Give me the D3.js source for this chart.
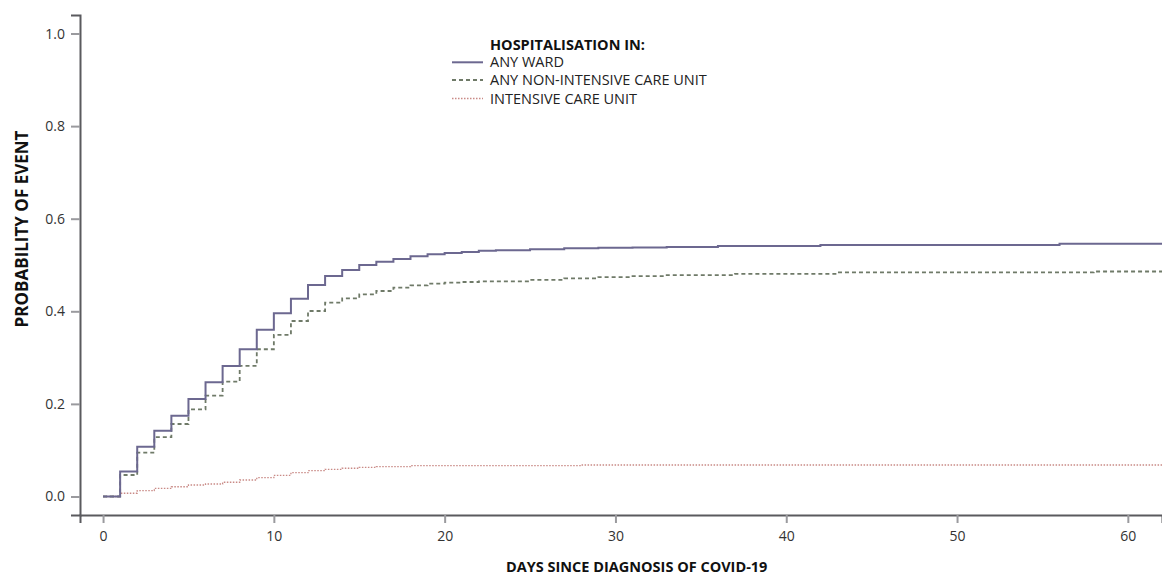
<!DOCTYPE html>
<html>
<head>
<meta charset="utf-8">
<script src="https://cdn.jsdelivr.net/npm/d3@7"></script>
<style>
  body { margin: 0; background: #fff; }
  svg text { font-family: "Open Sans", "Noto Sans", sans-serif; }
</style>
</head>
<body>
<div class="chart_container"></div>
<script>
// step data (day of step, cumulative probability)
var wardDays = [0,1,2,3,4,5,6,7,8,9,10,11,12,13,14,15,16,17,18,19,20,21,22,23,25,27,29,31,33,36,42,56,62];
var wardProb = [0,0.054,0.1075,0.142,0.1745,0.2106,0.2466,0.2818,0.318,0.36,0.396,0.427,0.457,0.476,0.489,0.5,0.507,0.513,0.519,0.523,0.526,0.528,0.531,0.532,0.534,0.536,0.537,0.538,0.539,0.541,0.543,0.546,0.546];

var nonIcuDays = [0,1,2,3,4,5,6,7,8,9,10,11,12,13,14,15,16,17,18,19,20,21,22,25,27,29,31,33,37,43,58,62];
var nonIcuProb = [0,0.0464,0.0946,0.128,0.1566,0.188,0.218,0.248,0.282,0.318,0.349,0.379,0.4006,0.4186,0.428,0.4367,0.4438,0.451,0.456,0.4596,0.4618,0.4633,0.4648,0.468,0.471,0.474,0.476,0.478,0.481,0.484,0.486,0.486];

var icuDays = [0,1,2,3,4,5,6,7,8,9,10,11,12,13,14,15,16,18,28,62];
var icuProb = [0,0.007,0.0125,0.0177,0.021,0.0248,0.027,0.0307,0.0356,0.0406,0.0458,0.0514,0.0557,0.0587,0.061,0.063,0.0644,0.0666,0.068,0.068];

var xTicks = [0,10,20,30,40,50,60];
var yTicks = [0,0.2,0.4,0.6,0.8,1.0];

var legendTitle = "HOSPITALISATION IN:";
var legendLabels = ["ANY WARD", "ANY NON-INTENSIVE CARE UNIT", "INTENSIVE CARE UNIT"];

var width = 1162, height = 578;

var svg = d3.select(".chart_container").append("svg")
    .attr("width", width)
    .attr("height", height);

var x = d3.scaleLinear().domain([-1.35, 62]).range([80, 1162]);
var y = d3.scaleLinear().domain([-0.04, 1.04]).range([515, 15]);

// axes
var xAxis = svg.append("g")
    .attr("transform", "translate(0,515)")
    .call(d3.axisBottom(x).tickValues(xTicks).tickSize(8).tickPadding(8).tickFormat(d3.format("d")));
var yAxis = svg.append("g")
    .attr("transform", "translate(80,0)")
    .call(d3.axisLeft(y).tickValues(yTicks).tickSize(9).tickPadding(6).tickFormat(d3.format(".1f")));

[xAxis, yAxis].forEach(function(a) {
    a.select(".domain").attr("stroke", "#5a5a5e").attr("stroke-width", 2);
    a.selectAll(".tick line").attr("stroke", "#9a9a9e").attr("stroke-width", 2);
    a.selectAll(".tick text").attr("fill", "#333").style("font-size", "14px");
});

// axis titles
svg.append("text")
    .attr("x", 506).attr("y", 572)
    .style("font-size", "14.5px").style("font-weight", "bold")
    .attr("fill", "#111")
    .text("DAYS SINCE DIAGNOSIS OF COVID-19");

svg.append("text")
    .attr("transform", "translate(28,229) rotate(-90)")
    .attr("text-anchor", "middle")
    .style("font-size", "17px").style("font-weight", "bold")
    .attr("fill", "#111")
    .text("PROBABILITY OF EVENT");

// curves
svg.append("clipPath").attr("id", "plot")
  .append("rect").attr("x", 81).attr("y", 15).attr("width", 1081).attr("height", 499);

var line = d3.line()
    .x(d => x(d[0]))
    .y(d => y(d[1]))
    .curve(d3.curveStepAfter);

var series = [
    { days: wardDays, prob: wardProb, color: "#6c6890", width: 2, dash: null },
    { days: nonIcuDays, prob: nonIcuProb, color: "#6f7a68", width: 1.8, dash: "4,3" },
    { days: icuDays, prob: icuProb, color: "#c98a86", width: 1.3, dash: "1.5,1.5" }
];

var g = svg.append("g").attr("clip-path", "url(#plot)");

g.selectAll("path")
    .data(series.slice().reverse())
    .enter().append("path")
        .attr("d", s => line(d3.zip(s.days, s.prob)))
        .attr("fill", "none")
        .attr("stroke", s => s.color)
        .attr("stroke-width", s => s.width)
        .attr("stroke-dasharray", s => s.dash);

// legend
var legend = svg.append("g");
legend.append("text")
    .attr("x", 490).attr("y", 50)
    .style("font-size", "14.5px").style("font-weight", "bold")
    .attr("fill", "#111")
    .text(legendTitle);

var legendY = [62.3, 80, 98.5];
legendLabels.forEach(function(lbl, i) {
    var ly = legendY[i];
    legend.append("line")
        .attr("x1", 452).attr("x2", 483)
        .attr("y1", ly).attr("y2", ly)
        .attr("stroke", series[i].color)
        .attr("stroke-width", series[i].width)
        .attr("stroke-dasharray", series[i].dash);
    legend.append("text")
        .attr("x", 490).attr("y", ly + 5)
        .style("font-size", "14.5px")
        .attr("fill", "#222")
        .text(lbl);
});
</script>
</body>
</html>
